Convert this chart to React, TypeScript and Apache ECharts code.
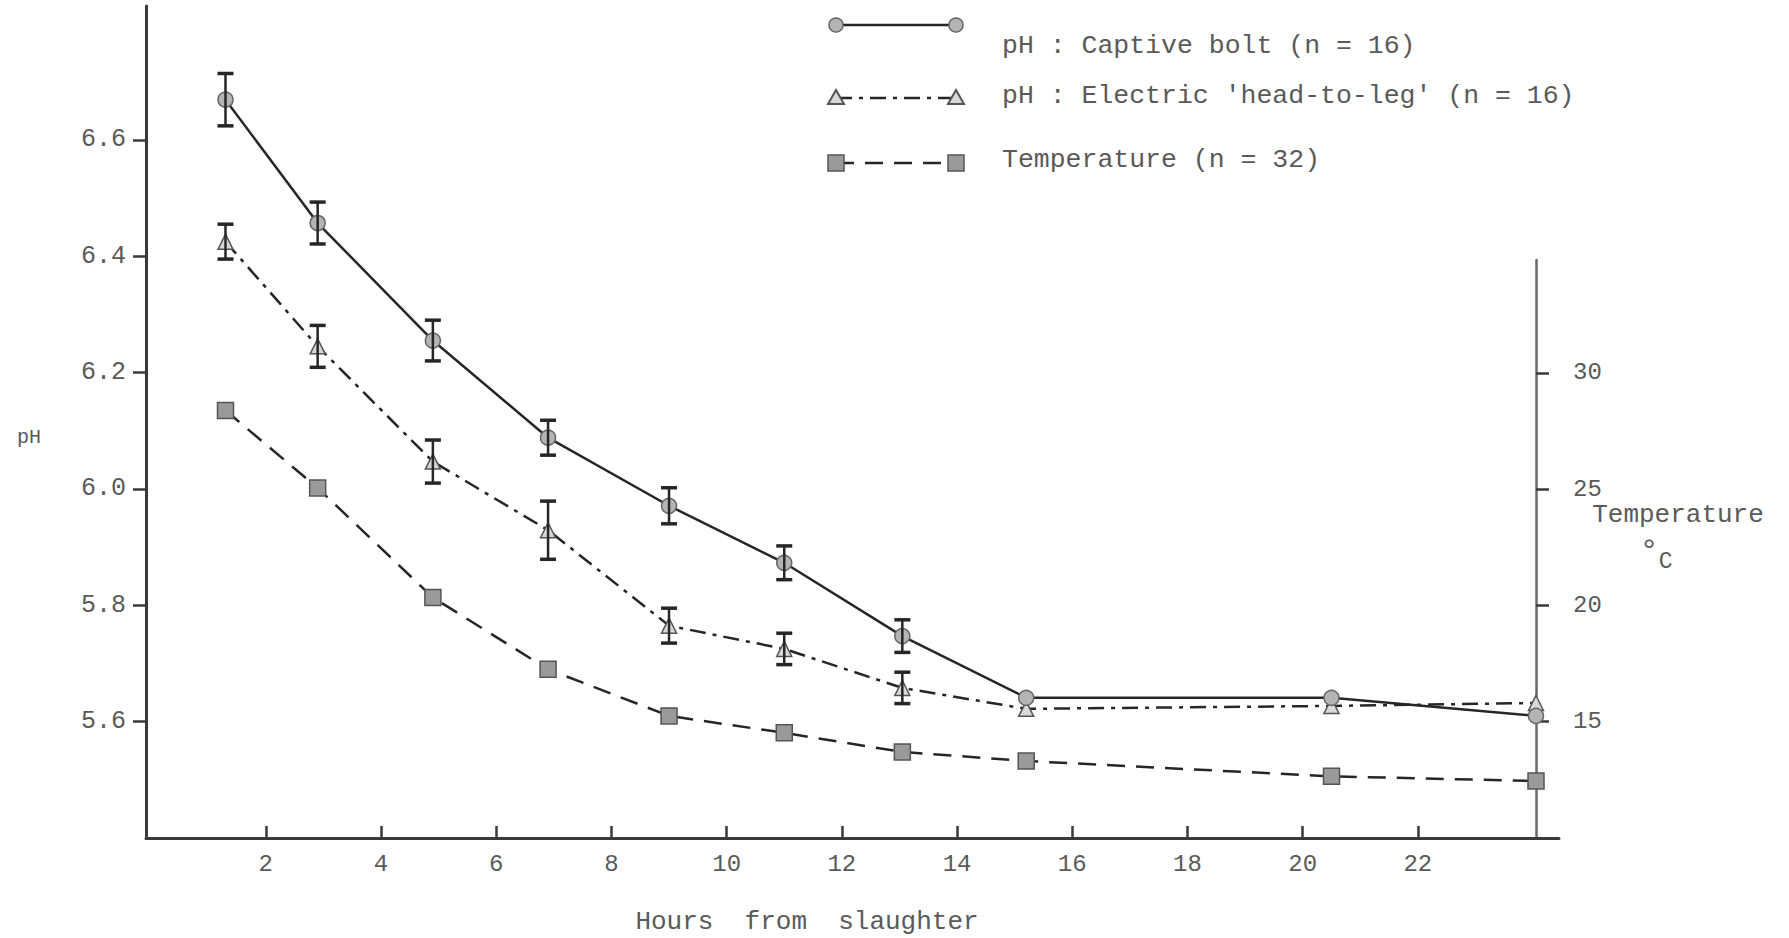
import React, { useEffect, useRef } from "react";
import * as echarts from "echarts";

const hours = [1.3, 2.9, 4.9, 6.9, 9.0, 11.0, 13.05, 15.2, 20.5, 24.05];
const phCaptive = [6.669, 6.457, 6.255, 6.088, 5.971, 5.873, 5.747, 5.641, 5.641, 5.61];
const phCaptiveSE = [0.045, 0.036, 0.035, 0.03, 0.031, 0.029, 0.028, null, null, null];
const phElectric = [6.425, 6.245, 6.047, 5.929, 5.765, 5.725, 5.658, 5.622, 5.627, 5.632];
const phElectricSE = [0.03, 0.036, 0.037, 0.05, 0.03, 0.027, 0.027, null, null, null];
const temperature = [28.38, 25.05, 20.34, 17.25, 15.25, 14.52, 13.7, 13.31, 12.65, 12.45];

const xTicks = [2, 4, 6, 8, 10, 12, 14, 16, 18, 20, 22];
const phTicks = [5.6, 5.8, 6.0, 6.2, 6.4, 6.6];
const tempTicks = [15, 20, 25, 30];

const legendLabels = [
  "pH : Captive bolt (n = 16)",
  "pH : Electric 'head-to-leg' (n = 16)",
  "Temperature (n = 32)",
];
const xTitle = "Hours  from  slaughter";
const yTitle = "pH";
const y2Title = "Temperature";

const FONT = "'Liberation Mono', 'DejaVu Sans Mono', monospace";
const TXT = "#5a5a5a";
const INK = "#262626";

export default function App() {
  const ref = useRef<HTMLDivElement>(null);

  useEffect(() => {
    if (!ref.current) return;
    const chart = echarts.init(ref.current, null, { renderer: "svg" });

    const errSeries = (vals: number[], se: (number | null)[]) => ({
      type: "custom",
      xAxisIndex: 0,
      yAxisIndex: 0,
      silent: true,
      z: 6,
      data: hours
        .map((h, i) => (se[i] == null ? null : [h, vals[i] - (se[i] as number), vals[i] + (se[i] as number)]))
        .filter((d) => d !== null),
      encode: { x: 0, y: [1, 2] },
      renderItem: (_p: any, api: any) => {
        const x = api.value(0);
        const lo = api.coord([x, api.value(1)]);
        const hi = api.coord([x, api.value(2)]);
        const w = 8;
        return {
          type: "group",
          children: [
            { type: "line", shape: { x1: lo[0], y1: lo[1], x2: hi[0], y2: hi[1] }, style: { stroke: INK, lineWidth: 2.5 } },
            { type: "line", shape: { x1: lo[0] - w, y1: lo[1], x2: lo[0] + w, y2: lo[1] }, style: { stroke: INK, lineWidth: 3.5 } },
            { type: "line", shape: { x1: hi[0] - w, y1: hi[1], x2: hi[0] + w, y2: hi[1] }, style: { stroke: INK, lineWidth: 3.5 } },
          ],
        };
      },
    });

    const lx1 = 836;
    const lx2 = 956;
    const ly = [25, 98, 163];
    const ty = [46, 96, 160];
    const tri = (cx: number, cy: number) => ({
      type: "polygon",
      shape: { points: [[cx, cy - 8], [cx - 8, cy + 6], [cx + 8, cy + 6]] },
      style: { fill: "#d8d8d8", stroke: "#555", lineWidth: 2 },
    });

    const graphic: any[] = [
      { type: "line", shape: { x1: lx1, y1: ly[0], x2: lx2, y2: ly[0] }, style: { stroke: INK, lineWidth: 2.5 } },
      { type: "circle", shape: { cx: lx1, cy: ly[0], r: 7 }, style: { fill: "#b4b4b4", stroke: "#666", lineWidth: 1.5 } },
      { type: "circle", shape: { cx: lx2, cy: ly[0], r: 7 }, style: { fill: "#b4b4b4", stroke: "#666", lineWidth: 1.5 } },
      { type: "line", shape: { x1: lx1, y1: ly[1], x2: lx2, y2: ly[1] }, style: { stroke: INK, lineWidth: 2.5, lineDash: [16, 7, 4, 7] } },
      tri(lx1, ly[1]),
      tri(lx2, ly[1]),
      { type: "line", shape: { x1: lx1, y1: ly[2], x2: lx2, y2: ly[2] }, style: { stroke: INK, lineWidth: 2.5, lineDash: [18, 11] } },
      { type: "rect", shape: { x: lx1 - 8, y: ly[2] - 8, width: 16, height: 16 }, style: { fill: "#9a9a9a", stroke: "#555", lineWidth: 1.5 } },
      { type: "rect", shape: { x: lx2 - 8, y: ly[2] - 8, width: 16, height: 16 }, style: { fill: "#9a9a9a", stroke: "#555", lineWidth: 1.5 } },
      ...legendLabels.map((t, i) => ({
        type: "text",
        x: 1002,
        y: ty[i],
        style: { text: t, fill: TXT, font: `26.5px ${FONT}`, textVerticalAlign: "middle", textAlign: "left" },
      })),
      { type: "text", x: 29, y: 437, style: { text: yTitle, fill: TXT, font: `20px ${FONT}`, textAlign: "center", textVerticalAlign: "middle" } },
      { type: "text", x: 807, y: 922, style: { text: xTitle, fill: TXT, font: `26px ${FONT}`, textAlign: "center", textVerticalAlign: "middle" } },
      { type: "text", x: 1678, y: 515, style: { text: y2Title, fill: TXT, font: `26px ${FONT}`, textAlign: "center", textVerticalAlign: "middle" } },
      {
        type: "text",
        x: 1656,
        y: 556,
        style: {
          text: "{a|°}{b|C}",
          fill: TXT,
          textAlign: "center",
          textVerticalAlign: "middle",
          rich: {
            a: { font: `32px ${FONT}`, fill: TXT, verticalAlign: "top", padding: [0, 0, 10, 0] },
            b: { font: `23px ${FONT}`, fill: TXT, padding: [12, 0, 0, 0] },
          },
        },
      },
    ];

    const option: any = {
      animation: false,
      backgroundColor: "#ffffff",
      grid: [
        { left: 146, right: 230, top: 6, bottom: 100 },
        { left: 146, right: 253, top: 260, bottom: 100 },
      ],
      xAxis: [
        {
          type: "value",
          gridIndex: 0,
          min: -0.08,
          max: 24.45,
          splitLine: { show: false },
          axisLine: { show: true, onZero: false, lineStyle: { color: "#3a3a3a", width: 3 } },
          axisTick: { show: true, inside: true, length: 12, lineStyle: { color: "#3a3a3a", width: 2.5 }, customValues: xTicks },
          axisLabel: {
            show: true,
            customValues: xTicks,
            margin: 14,
            color: TXT,
            fontFamily: FONT,
            fontSize: 24,
          },
        },
        {
          type: "value",
          gridIndex: 1,
          min: -0.08,
          max: 24.05,
          show: false,
          splitLine: { show: false },
        },
      ],
      yAxis: [
        {
          type: "value",
          gridIndex: 0,
          position: "left",
          min: 5.4,
          max: 6.83,
          splitLine: { show: false },
          axisLine: { show: true, onZero: false, lineStyle: { color: "#3a3a3a", width: 3 } },
          axisTick: { show: true, inside: false, length: 13, lineStyle: { color: "#3a3a3a", width: 2.5 }, customValues: phTicks },
          axisLabel: {
            show: true,
            customValues: phTicks,
            margin: 20,
            color: TXT,
            fontFamily: FONT,
            fontSize: 25,
            formatter: (v: number) => v.toFixed(1),
          },
        },
        {
          type: "value",
          gridIndex: 1,
          position: "right",
          min: 10,
          max: 34.85,
          splitLine: { show: false },
          axisLine: { show: true, onZero: false, lineStyle: { color: "#6a6a6a", width: 2.5 } },
          axisTick: { show: true, inside: false, length: 13, lineStyle: { color: "#3a3a3a", width: 2.5 }, customValues: tempTicks },
          axisLabel: {
            show: true,
            customValues: tempTicks,
            margin: 37,
            color: TXT,
            fontFamily: FONT,
            fontSize: 24,
          },
        },
      ],
      graphic,
      series: [
        {
          name: legendLabels[0],
          type: "line",
          xAxisIndex: 0,
          yAxisIndex: 0,
          data: hours.map((h, i) => [h, phCaptive[i]]),
          symbol: "circle",
          symbolSize: 15,
          lineStyle: { color: INK, width: 2.5, type: "solid" },
          itemStyle: { color: "#b4b4b4", borderColor: "#666", borderWidth: 1.5 },
          z: 4,
        },
        {
          name: legendLabels[1],
          type: "line",
          xAxisIndex: 0,
          yAxisIndex: 0,
          data: hours.map((h, i) => [h, phElectric[i]]),
          symbol: "triangle",
          symbolSize: 15,
          lineStyle: { color: INK, width: 2.5, type: [16, 7, 4, 7] },
          itemStyle: { color: "#d8d8d8", borderColor: "#555", borderWidth: 1.5 },
          z: 3,
        },
        {
          name: legendLabels[2],
          type: "line",
          xAxisIndex: 1,
          yAxisIndex: 1,
          data: hours.map((h, i) => [h, temperature[i]]),
          symbol: "rect",
          symbolSize: 16,
          lineStyle: { color: INK, width: 2.5, type: [18, 11] },
          itemStyle: { color: "#9a9a9a", borderColor: "#555", borderWidth: 1.5 },
          z: 3,
        },
        errSeries(phCaptive, phCaptiveSE),
        errSeries(phElectric, phElectricSE),
      ],
    };

    chart.setOption(option);
    return () => chart.dispose();
  }, []);

  return (
    <div
      ref={ref}
      style={{ position: "absolute", left: 0, top: 0, width: 1789, height: 938, background: "#fff" }}
    />
  );
}
